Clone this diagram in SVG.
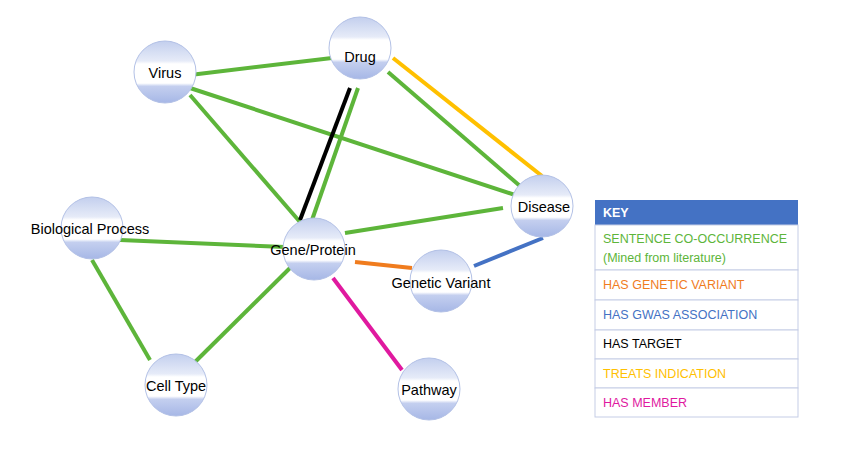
<svg xmlns="http://www.w3.org/2000/svg" width="843" height="465" viewBox="0 0 843 465">
<defs>
<linearGradient id="g" x1="0" y1="0" x2="0" y2="1">
<stop offset="0" stop-color="#c3cfee"/><stop offset="0.32" stop-color="#e6ebf8"/><stop offset="0.37" stop-color="#fff"/><stop offset="0.68" stop-color="#fff"/><stop offset="0.73" stop-color="#c4cfef"/><stop offset="1" stop-color="#a6b7e6"/>
</linearGradient>
</defs>
<style>
.n{fill:url(#g);stroke:#b3c1e6;stroke-width:1}
.t{font-family:"Liberation Sans",Arial,sans-serif;font-size:14.5px;fill:#000;text-anchor:middle}
.e{stroke-width:4;fill:none}
.k{font-family:"Liberation Sans",Arial,sans-serif;font-size:12.5px}
.r{fill:#fff;stroke:#c5cde6;stroke-width:1}
</style>
<rect width="843" height="465" fill="#fff"/>
<g id="connectors">
<line class="e" stroke="#5db53a" x1="190" y1="75" x2="332" y2="58"/>
<line class="e" stroke="#5db53a" x1="190" y1="88" x2="515" y2="195"/>
<line class="e" stroke="#5db53a" x1="190" y1="95" x2="300" y2="222"/>
<line class="e" stroke="#000" x1="350" y1="88" x2="300" y2="220"/>
<line class="e" stroke="#5db53a" x1="358" y1="88" x2="312" y2="220"/>
<line class="e" stroke="#5db53a" x1="388" y1="72" x2="520" y2="186"/>
<line class="e" stroke="#ffc000" x1="393" y1="58" x2="542" y2="176"/>
<line class="e" stroke="#5db53a" x1="345" y1="233" x2="503" y2="208"/>
<line class="e" stroke="#5db53a" x1="120" y1="240" x2="285" y2="247"/>
<line class="e" stroke="#5db53a" x1="92" y1="260" x2="150" y2="360"/>
<line class="e" stroke="#5db53a" x1="290" y1="268" x2="195" y2="362"/>
<line class="e" stroke="#e0199f" x1="333" y1="278" x2="402" y2="370"/>
<line class="e" stroke="#f07c1e" x1="355" y1="262" x2="412" y2="268"/>
<line class="e" stroke="#4472c4" x1="474" y1="266" x2="543" y2="238"/>
</g>
<g id="drug"><circle class="n" cx="360" cy="48" r="31"/><text class="t" x="360" y="62">Drug</text></g>
<g id="virus"><circle class="n" cx="165" cy="72" r="31"/><text class="t" x="165" y="78">Virus</text></g>
<g id="disease"><circle class="n" cx="542" cy="206" r="31"/><text class="t" x="544" y="212">Disease</text></g>
<g id="bioprocess"><circle class="n" cx="92" cy="228" r="31"/><text class="t" x="90" y="234">Biological Process</text></g>
<g id="gene"><circle class="n" cx="314" cy="249" r="31"/><text class="t" x="313" y="255">Gene/Protein</text></g>
<g id="variant"><circle class="n" cx="441" cy="281" r="31"/><text class="t" x="441" y="288">Genetic Variant</text></g>
<g id="celltype"><circle class="n" cx="176" cy="385" r="31"/><text class="t" x="176" y="391">Cell Type</text></g>
<g id="pathway"><circle class="n" cx="429" cy="389" r="31"/><text class="t" x="429" y="395">Pathway</text></g>
<g id="key">
<rect x="595" y="200" width="203" height="25" fill="#4472c4"/>
<text class="k" x="603" y="217" fill="#fff" font-weight="bold">KEY</text>
<rect class="r" x="595" y="225" width="203" height="45"/>
<text class="k" x="603" y="243" fill="#5db53a">SENTENCE CO-OCCURRENCE</text>
<text class="k" x="603" y="262" fill="#5db53a">(Mined from literature)</text>
<rect class="r" x="595" y="270" width="203" height="30"/>
<text class="k" x="603" y="289" fill="#f07c1e">HAS GENETIC VARIANT</text>
<rect class="r" x="595" y="300" width="203" height="30"/>
<text class="k" x="603" y="319" fill="#4472c4">HAS GWAS ASSOCIATION</text>
<rect class="r" x="595" y="330" width="203" height="29"/>
<text class="k" x="603" y="348" fill="#000">HAS TARGET</text>
<rect class="r" x="595" y="359" width="203" height="29"/>
<text class="k" x="603" y="378" fill="#ffc000">TREATS INDICATION</text>
<rect class="r" x="595" y="388" width="203" height="29"/>
<text class="k" x="603" y="407" fill="#e0199f">HAS MEMBER</text>
</g>
</svg>
